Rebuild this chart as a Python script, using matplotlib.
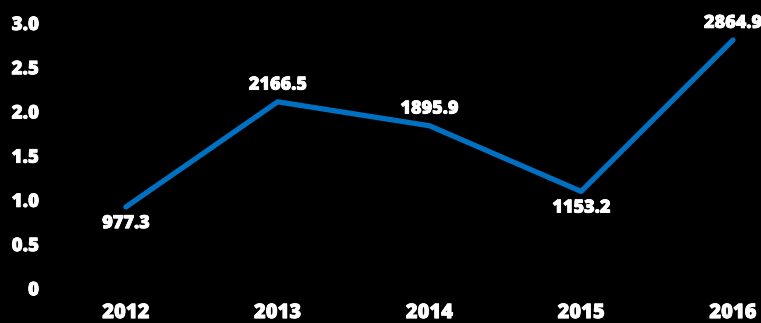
import matplotlib
matplotlib.use("Agg")
import matplotlib.pyplot as plt
import matplotlib.patheffects as pe
import matplotlib.ticker as mticker
from matplotlib.transforms import ScaledTranslation

years = ["2012", "2013", "2014", "2015", "2016"]
values = [977.3, 2166.5, 1895.9, 1153.2, 2864.9]
label_side = ["below", "above", "above", "below", "above"]
yticks = [0, 0.5, 1.0, 1.5, 2.0, 2.5, 3.0]

plt.rcParams["font.family"] = ["Open Sans", "DejaVu Sans"]

fig = plt.figure(figsize=(7.61, 3.23), dpi=100, facecolor="black")
ax = fig.add_axes([50 / 761, (323 - 293.4) / 323, 711 / 761, 265.3 / 323])
ax.set_facecolor("black")

x = list(range(len(years)))
y = [v / 1000 for v in values]
ax.plot(x, y, color="#0070C0", lw=3.8, solid_capstyle="round", clip_on=False)

# white text with a black outline, thickened a little with a thin white stroke
outline = [pe.withStroke(linewidth=3, foreground="black"),
           pe.withStroke(linewidth=0.6, foreground="white")]
thick = [pe.withStroke(linewidth=0.6, foreground="white")]
for xi, yi, v, side in zip(x, y, values, label_side):
    dy = 12 if side == "above" else -12
    ax.annotate(f"{v:.1f}", (xi, yi), xytext=(0, dy), textcoords="offset points",
                ha="center", va="center", color="white", fontsize=13,
                fontweight="heavy", path_effects=outline, annotation_clip=False)

ax.set_xlim(-0.5, 4.185)
ax.set_ylim(0, 3.0)
ax.set_xticks(x)
ax.set_xticklabels(years)
ax.set_yticks(yticks)
ax.yaxis.set_major_formatter(mticker.FuncFormatter(lambda v, p: "0" if v == 0 else f"{v:.1f}"))
ax.tick_params(length=0, colors="white", labelsize=13.5)
ax.tick_params(axis="x", labelsize=14.5, pad=7)
ax.tick_params(axis="y", pad=8)
for lab in ax.get_xticklabels() + ax.get_yticklabels():
    lab.set_fontweight("heavy")
    lab.set_path_effects(thick)
for lab in ax.get_yticklabels():
    lab.set_transform(lab.get_transform() + ScaledTranslation(0, 4 / 72, fig.dpi_scale_trans))
for s in ax.spines.values():
    s.set_visible(False)

fig.savefig("out.png", dpi=100, facecolor="black")
